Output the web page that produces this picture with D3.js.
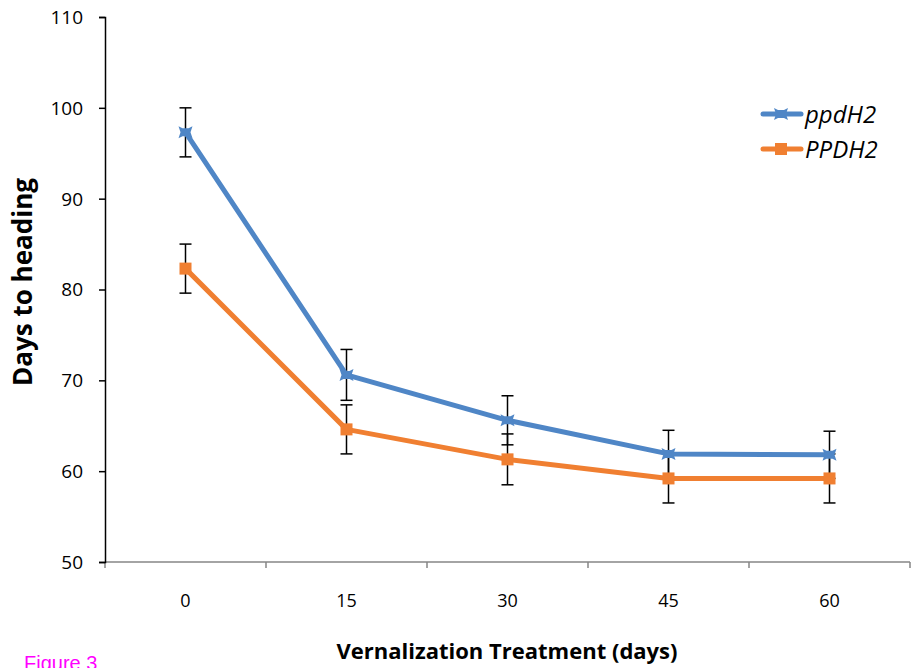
<!DOCTYPE html>
<html>
<head>
<meta charset="utf-8">
<script src="https://cdn.jsdelivr.net/npm/d3@7"></script>
<style>
  body { margin: 0; background: #fff; }
  svg { display: block; font-family: "Open Sans", sans-serif; }
</style>
</head>
<body>
<svg width="911" height="668"></svg>
<script>
const days = ["0", "15", "30", "45", "60"];
const ppdH2 = [97.3, 70.6, 65.6, 61.9, 61.8];
const ppdH2Err = [2.7, 2.8, 2.7, 2.6, 2.6];
const PPDH2 = [82.3, 64.6, 61.3, 59.2, 59.2];
const PPDH2Err = [2.7, 2.7, 2.8, 2.7, 2.7];
const yTicks = [50, 60, 70, 80, 90, 100, 110];

const width = 911, height = 668;
const margin = {left: 105, right: 1, top: 17, bottom: 106};

const svg = d3.select("svg");

const x = d3.scaleBand()
    .domain(days)
    .range([margin.left, width - margin.right]);

const y = d3.scaleLinear()
    .domain([50, 110])
    .range([height - margin.bottom, margin.top]);

const series = [
    {name: "ppdH2", values: ppdH2, err: ppdH2Err, color: "#4f86c6", marker: "star"},
    {name: "PPDH2", values: PPDH2, err: PPDH2Err, color: "#f07f31", marker: "square"}
];

// x axis (gray, ticks between categories)
const xAxis = svg.append("g")
    .attr("transform", `translate(0,${y(50)})`);
xAxis.append("line")
    .attr("x1", margin.left).attr("x2", width - margin.right)
    .attr("stroke", "#868686").attr("stroke-width", 1.5);
xAxis.selectAll(".xt")
    .data(d3.range(days.length + 1))
    .join("line")
    .attr("x1", i => margin.left + i * x.step())
    .attr("x2", i => margin.left + i * x.step())
    .attr("y1", 0).attr("y2", 6)
    .attr("stroke", "#868686").attr("stroke-width", 1.5);
xAxis.selectAll("text")
    .data(days)
    .join("text")
    .attr("x", d => x(d) + x.bandwidth() / 2)
    .attr("y", 45)
    .attr("text-anchor", "middle")
    .style("font-size", "18px")
    .text(d => d);

// y axis: domain and ticks from d3, labels drawn separately
const yAxis = svg.append("g")
    .attr("transform", `translate(${margin.left},0)`)
    .call(d3.axisLeft(y).tickValues(yTicks).tickSize(6).tickFormat(""));
yAxis.select(".domain").attr("stroke", "#000").attr("stroke-width", 1.5);
yAxis.selectAll(".tick line").attr("stroke", "#000").attr("stroke-width", 1.5);

svg.append("g")
    .selectAll("text")
    .data(yTicks)
    .join("text")
    .attr("x", margin.left - 22)
    .attr("y", d => y(d))
    .attr("dy", "0.36em")
    .attr("text-anchor", "end")
    .style("font-size", "19px")
    .attr("fill", "#000")
    .text(d => d);

const cx = i => x(days[i]) + x.bandwidth() / 2;

// error bars
series.forEach(s => {
    const g = svg.append("g");
    s.values.forEach((v, i) => {
        const top = y(v + s.err[i]), bot = y(v - s.err[i]);
        g.append("line").attr("x1", cx(i)).attr("x2", cx(i))
            .attr("y1", top).attr("y2", bot);
        g.append("line").attr("x1", cx(i) - 6).attr("x2", cx(i) + 6)
            .attr("y1", top).attr("y2", top);
        g.append("line").attr("x1", cx(i) - 6).attr("x2", cx(i) + 6)
            .attr("y1", bot).attr("y2", bot);
    });
    g.selectAll("line").attr("stroke", "#000").attr("stroke-width", 1.5);
});

const line = d3.line()
    .x((d, i) => cx(i))
    .y(d => y(d));

function drawMarker(g, type, color) {
    if (type === "square") {
        g.append("rect").attr("x", -6).attr("y", -6).attr("width", 12).attr("height", 12)
            .attr("fill", color);
    } else {
        g.append("path")
            .attr("d", "M-7,-6 L-3,-4 L3,-4 L7,-6 L5,0 L7,6 L3,4 L-3,4 L-7,6 L-5,0 Z")
            .attr("fill", color);
    }
}

series.forEach(s => {
    svg.append("path")
        .datum(s.values)
        .attr("fill", "none")
        .attr("stroke", s.color)
        .attr("stroke-width", 5)
        .attr("stroke-linejoin", "round")
        .attr("d", line);
    s.values.forEach((v, i) => {
        const g = svg.append("g").attr("transform", `translate(${cx(i)},${y(v)})`);
        drawMarker(g, s.marker, s.color);
    });
});

// legend
const legend = svg.append("g");
series.forEach((s, i) => {
    const ly = 114 + i * 35;
    legend.append("line")
        .attr("x1", 763).attr("x2", 801)
        .attr("y1", ly).attr("y2", ly)
        .attr("stroke", s.color).attr("stroke-width", 5)
        .attr("stroke-linecap", "round");
    const mg = legend.append("g").attr("transform", `translate(781,${ly})`);
    drawMarker(mg, s.marker, s.color);
    legend.append("text")
        .attr("x", 805).attr("y", ly + 9)
        .style("font-size", "24px")
        .attr("font-style", "italic")
        .text(s.name);
});

// axis titles
svg.append("text")
    .attr("transform", "translate(32,282) rotate(-90)")
    .attr("text-anchor", "middle")
    .style("font-size", "26px")
    .attr("font-weight", "bold")
    .text("Days to heading");

svg.append("text")
    .attr("x", 507).attr("y", 659)
    .attr("text-anchor", "middle")
    .style("font-size", "22px")
    .attr("font-weight", "bold")
    .text("Vernalization Treatment (days)");

svg.append("text")
    .attr("x", 24).attr("y", 670)
    .attr("font-family", "Liberation Sans, Arial, sans-serif")
    .style("font-size", "20px")
    .attr("fill", "#ff00ff")
    .text("Figure 3");
</script>
</body>
</html>
